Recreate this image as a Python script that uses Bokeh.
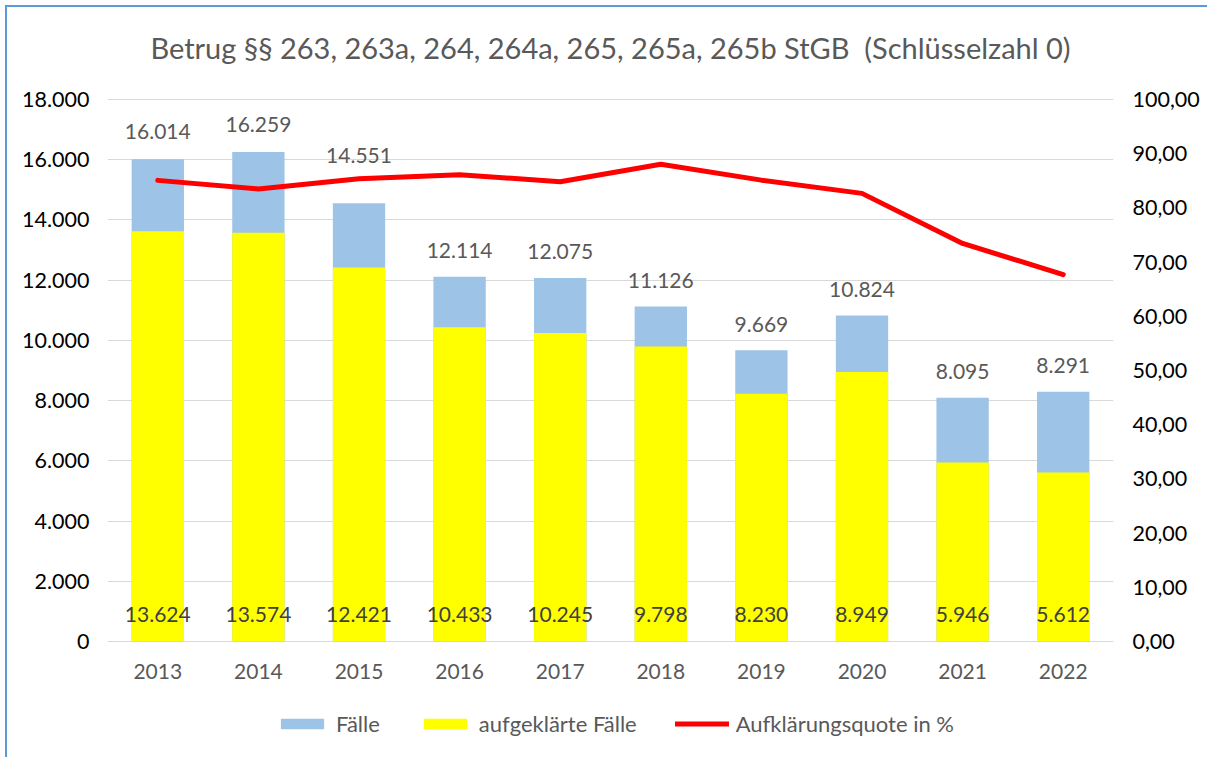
from bokeh.plotting import figure
from bokeh.models import (ColumnDataSource, FactorRange, Range1d, LinearAxis, Label,
                          CustomJSTickFormatter, Legend, LegendItem, FixedTicker)
from bokeh.core.properties import value
from bokeh.embed import file_html
from bokeh.resources import INLINE

title_text = "Betrug §§ 263, 263a, 264, 264a, 265, 265a, 265b StGB\u00a0 (Schlüsselzahl 0)"
years = ["2013", "2014", "2015", "2016", "2017", "2018", "2019", "2020", "2021", "2022"]
faelle = [16014, 16259, 14551, 12114, 12075, 11126, 9669, 10824, 8095, 8291]
aufgeklaert = [13624, 13574, 12421, 10433, 10245, 9798, 8230, 8949, 5946, 5612]
quote = [85.08, 83.49, 85.36, 86.12, 84.84, 88.06, 85.12, 82.68, 73.45, 67.69]

# label placement (style): pixels above the bar top
label_lift = [-28, -27, -48, -26, -26, -26, -26, -26, -26, -26]

FONT = "Lato"
Y_MAX = 18000
Q_MAX = 100
PX = 542 / Y_MAX                 # pixels per case on the left scale
Y_TOP = Y_MAX + 90 / PX          # room above the grid for the title
Y_LOW = -104 / PX                # room below zero for year labels and legend
Q_TOP = Y_TOP * Q_MAX / Y_MAX
Q_LOW = Y_LOW * Q_MAX / Y_MAX

def de(v):
    return f"{v:,}".replace(",", ".")

src = ColumnDataSource(dict(
    x=years, f=faelle, a=aufgeklaert, q=quote,
    fl=[de(v) for v in faelle], al=[de(v) for v in aufgeklaert],
    zero=[0] * len(years), lift=label_lift,
))

p = figure(width=1202, height=752, x_range=FactorRange(*years, range_padding=0),
           y_range=Range1d(Y_LOW, Y_TOP), output_backend="svg", toolbar_location=None,
           min_border_left=100, min_border_right=96, min_border_top=2, min_border_bottom=14,
           styles={"border-left": "2px solid #5B9BD5", "border-top": "2px solid #5B9BD5",
                   "margin-left": "5px", "margin-top": "5px"})
p.x_range.range_padding = 0
p.extra_y_ranges = {"q": Range1d(Q_LOW, Q_TOP)}

p.outline_line_color = None
p.background_fill_color = "white"
p.border_fill_color = "white"

r_f = p.vbar(x="x", top="f", width=0.52, source=src, fill_color="#9DC3E6", line_color=None)
r_a = p.vbar(x="x", top="a", width=0.52, source=src, fill_color="#FFFF00", line_color=None)
r_q = p.line(x="x", y="q", source=src, y_range_name="q", line_color="#FF0000",
             line_width=5, line_join="round", line_cap="round")

p.text(x="x", y="f", text="fl", source=src, text_align="center", text_baseline="middle",
       y_offset="lift", text_font=value(FONT), text_font_size="21px", text_color="#595959")
p.text(x="x", y="zero", text="al", source=src, text_align="center", text_baseline="middle",
       y_offset=-27, text_font=value(FONT), text_font_size="21px", text_color="#404040")
# category labels under the zero line
p.text(x="x", y="zero", text="x", source=src, text_align="center", text_baseline="middle",
       y_offset=30, text_font=value(FONT), text_font_size="21px", text_color="#595959")

# chart title, centred over the plot area
p.add_layout(Label(x=len(years) / 2, y=Y_MAX, y_offset=52, text=title_text,
                   text_align="center", text_baseline="middle", text_font=FONT,
                   text_font_size="29px", text_color="#595959"))

p.ygrid.grid_line_color = "#D9D9D9"
p.ygrid.grid_line_width = 1
p.xgrid.grid_line_color = None

p.yaxis.ticker = FixedTicker(ticks=list(range(0, Y_MAX + 1, 2000)))
p.yaxis.formatter = CustomJSTickFormatter(
    code='return tick.toFixed(0).replace(/\\B(?=(\\d{3})+(?!\\d))/g, ".");')
ax_r = LinearAxis(y_range_name="q", ticker=FixedTicker(ticks=list(range(0, Q_MAX + 1, 10))),
                  formatter=CustomJSTickFormatter(code='return tick.toFixed(2).replace(".", ",");'))
p.add_layout(ax_r, "right")

for ax in [p.yaxis[0], ax_r]:
    ax.axis_line_color = None
    ax.major_tick_line_color = None
    ax.minor_tick_line_color = None
    ax.major_label_text_font = FONT
    ax.major_label_text_font_size = "21.5px"
    ax.major_label_text_color = "#000000"
p.yaxis[0].major_label_standoff = 12
ax_r.major_label_standoff = 13

p.xaxis.visible = False

legend = Legend(items=[
    LegendItem(label="Fälle", renderers=[r_f]),
    LegendItem(label="aufgeklärte Fälle", renderers=[r_a]),
    LegendItem(label="Aufklärungsquote in %", renderers=[r_q]),
], orientation="horizontal", location=(168, 8), border_line_color=None,
    background_fill_alpha=0, label_text_font=FONT, label_text_font_size="22px",
    label_text_color="#595959", glyph_width=54, glyph_height=13, spacing=38,
    label_standoff=7, margin=0, padding=0, label_height=20)
p.add_layout(legend, "center")

open("out.html", "w").write(file_html(p, INLINE))
